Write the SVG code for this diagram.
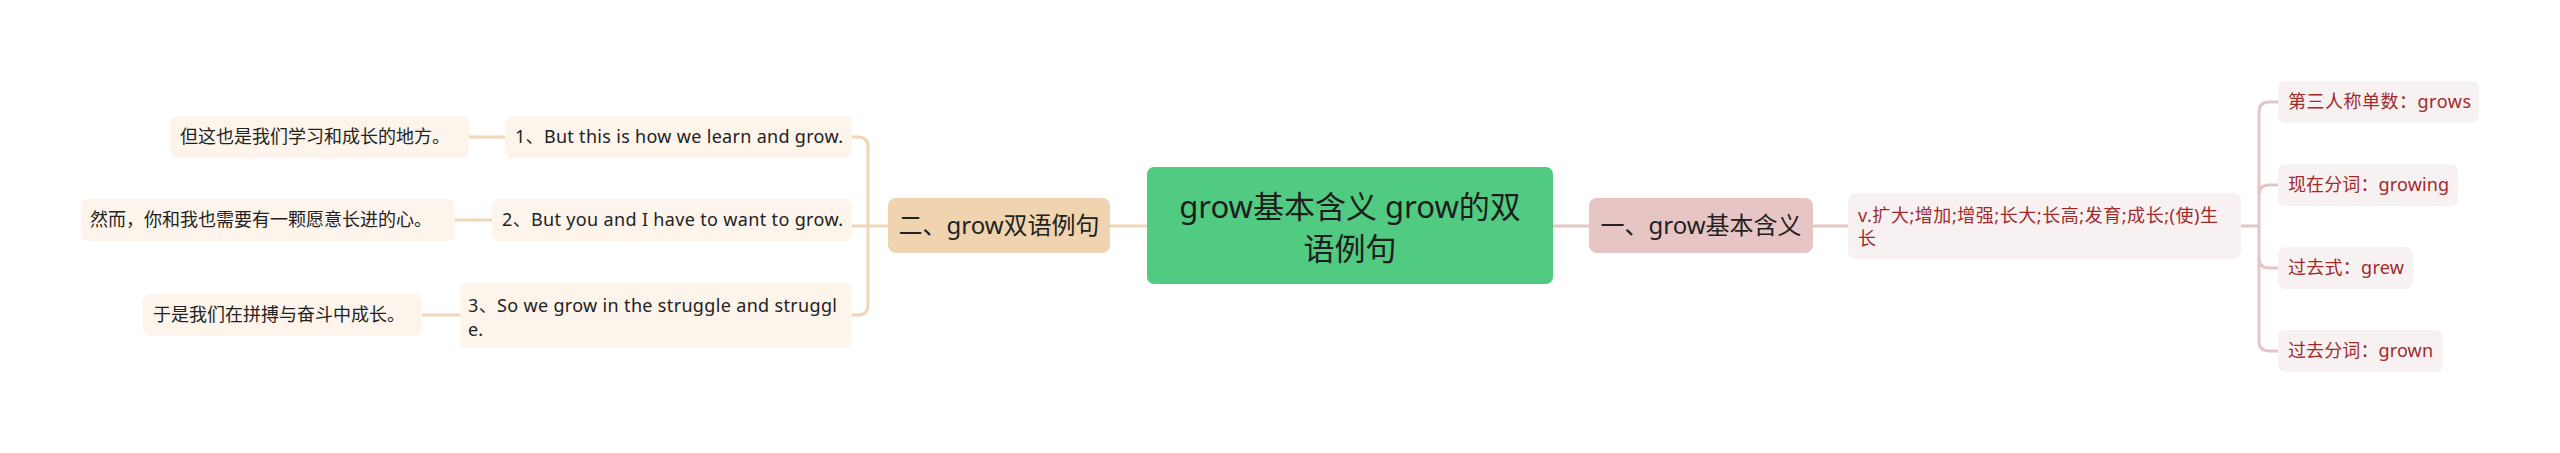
<svg xmlns="http://www.w3.org/2000/svg" width="2560" height="453" viewBox="0 0 2560 453">
<style>
text{font-family:"Noto Sans","Noto Sans CJK SC",sans-serif;}
.lc{fill:none;stroke:#efd6b6;stroke-width:3;}
.rc{fill:none;stroke:#e4c6c6;stroke-width:3;}
.leafL{fill:#fdf5ec;}
.leafR{fill:#f8f1f1;}
.tL{font-size:18px;fill:#222222;}
.tR{font-size:18px;fill:#a2292b;}
.mid{font-size:24px;fill:#222222;text-anchor:middle;}
</style>
<rect width="2560" height="453" fill="#ffffff"/>
<g id="connectors">
<path class="lc" d="M1110,226 H1147"/>
<path class="lc" d="M852,226 H888"/>
<path class="lc" d="M852,137 H858 Q868,137 868,147 V305 Q868,315 858,315 H852"/>
<path class="lc" d="M469,137 H505"/>
<path class="lc" d="M455,220 H492"/>
<path class="lc" d="M422,315 H460"/>
<path class="rc" d="M1553,226 H1589"/>
<path class="rc" d="M1813,226 H1848"/>
<path class="rc" d="M2241,226 H2259"/>
<path class="rc" d="M2278,102 H2269 Q2259,102 2259,112 V341 Q2259,351 2269,351 H2278"/>
<path class="rc" d="M2259,195 Q2259,185 2269,185 H2278"/>
<path class="rc" d="M2259,258 Q2259,268 2269,268 H2278"/>
</g>
<g id="root">
<rect x="1147" y="167" width="406" height="117" rx="7" fill="#52cb82"/>
<text x="1350" y="218" font-size="31" fill="#1d1d1d" text-anchor="middle">grow基本含义 grow的双</text>
<text x="1350" y="260" font-size="31" fill="#1d1d1d" text-anchor="middle">语例句</text>
</g>
<g id="n1">
<rect x="1589" y="198" width="224" height="55" rx="8" fill="#e8c5c5"/>
<text class="mid" x="1701" y="234">一、grow基本含义</text>
</g>
<g id="n1-def">
<rect class="leafR" x="1848" y="193" width="393" height="66" rx="8"/>
<text class="tR" x="1858" y="222" textLength="360" lengthAdjust="spacing">v.扩大;增加;增强;长大;长高;发育;成长;(使)生</text>
<text class="tR" x="1858" y="245">长</text>
</g>
<g id="r1">
<rect class="leafR" x="2278" y="81" width="201" height="42" rx="7"/>
<text class="tR" x="2288" y="108" textLength="183" lengthAdjust="spacing">第三人称单数：grows</text>
</g>
<g id="r2">
<rect class="leafR" x="2278" y="164" width="180" height="42" rx="7"/>
<text class="tR" x="2288" y="191" textLength="161" lengthAdjust="spacing">现在分词：growing</text>
</g>
<g id="r3">
<rect class="leafR" x="2278" y="247" width="135" height="42" rx="7"/>
<text class="tR" x="2288" y="274" textLength="116" lengthAdjust="spacing">过去式：grew</text>
</g>
<g id="r4">
<rect class="leafR" x="2278" y="330" width="165" height="42" rx="7"/>
<text class="tR" x="2288" y="357" textLength="145" lengthAdjust="spacing">过去分词：grown</text>
</g>
<g id="n2">
<rect x="888" y="198" width="222" height="55" rx="8" fill="#f0d4b0"/>
<text class="mid" x="999" y="234">二、grow双语例句</text>
</g>
<g id="s1">
<rect class="leafL" x="505" y="116" width="347" height="42" rx="7"/>
<text class="tL" x="515" y="143" textLength="328" lengthAdjust="spacing">1、But this is how we learn and grow.</text>
</g>
<g id="s1-cn">
<rect class="leafL" x="170" y="116" width="299" height="42" rx="7"/>
<text class="tL" x="180" y="143">但这也是我们学习和成长的地方。</text>
</g>
<g id="s2">
<rect class="leafL" x="492" y="199" width="360" height="42" rx="7"/>
<text class="tL" x="502" y="226" textLength="341" lengthAdjust="spacing">2、But you and I have to want to grow.</text>
</g>
<g id="s2-cn">
<rect class="leafL" x="81" y="199" width="374" height="42" rx="7"/>
<text class="tL" x="90" y="226">然而，你和我也需要有一颗愿意长进的心。</text>
</g>
<g id="s3">
<rect class="leafL" x="460" y="283" width="392" height="65" rx="7"/>
<text class="tL" x="468" y="312" textLength="369" lengthAdjust="spacing">3、So we grow in the struggle and struggl</text>
<text class="tL" x="468" y="336">e.</text>
</g>
<g id="s3-cn">
<rect class="leafL" x="143" y="294" width="279" height="42" rx="7"/>
<text class="tL" x="153" y="321">于是我们在拼搏与奋斗中成长。</text>
</g>
</svg>
